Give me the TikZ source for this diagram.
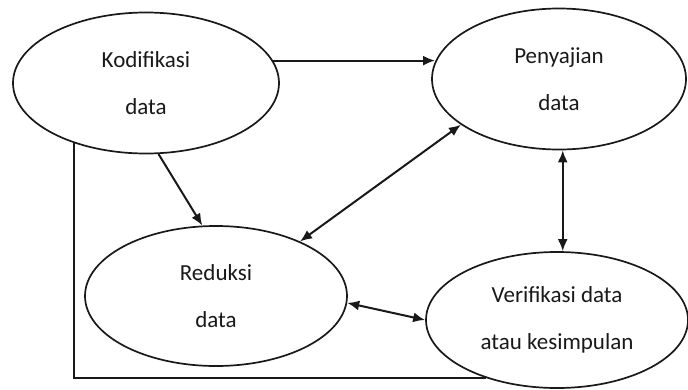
\documentclass[tikz,border=0pt]{standalone}
\usepackage{fontspec}
\setmainfont{Carlito}
\usetikzlibrary{shapes.geometric,arrows.meta}
\begin{document}
\begin{tikzpicture}[x=1pt,y=-1pt,
  bub/.style={draw=black!90, ellipse, line width=1.7pt, inner sep=0pt, align=center,
    font=\fontsize{23}{47}\selectfont, text=black!90},
  con/.style={line width=2pt, draw=black!90, arrows={-}},
  tip/.style={-{Latex[length=12pt,width=10pt]}},
  tips/.style={{Latex[length=12pt,width=10pt]}-{Latex[length=12pt,width=10pt]}}]
\useasboundingbox (0,0) rectangle (688,389);
\node[bub, minimum width=266pt, minimum height=141pt] (K) at (146,83) {Kodifikasi\\data};
\node[bub, minimum width=254pt, minimum height=141pt] (P) at (559,79) {Penyajian\\data};
\node[bub, minimum width=262pt, minimum height=140pt] (R) at (216,296) {Reduksi\\data};
\node[bub, minimum width=262pt, minimum height=136pt] (V) at (557,320) {Verifikasi data\\atau kesimpulan};
\draw[con, tip] (K.10) -- (P.172 |- K.10);
\draw[con, tip] (K.-80) -- (R.101);
\draw[con, tips] (P.205) -- (R.33);
\draw[con, tips] (P.-87) -- (P.-87 |- V.north);
\draw[con, tips] (R.-3) -- (V.180);
\coordinate (corner) at (K.220 |- V.219);
\draw[con] (K.220) -- (corner) -- (V.219);
\end{tikzpicture}
\end{document}
